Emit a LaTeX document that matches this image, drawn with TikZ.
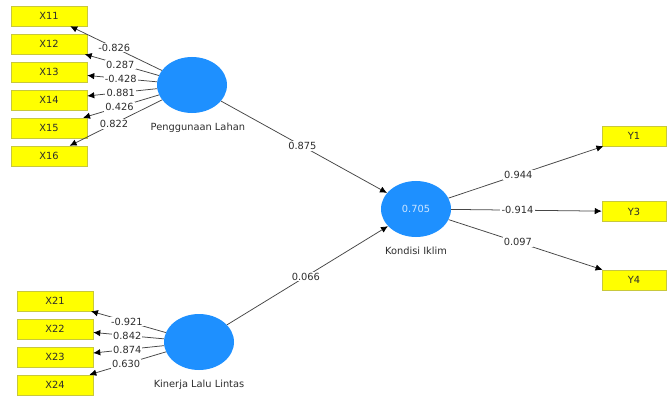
\documentclass[tikz,border=0pt]{standalone}
\usepackage{fontspec}
\setmainfont{DejaVu Sans}
\usepackage{tikz}
\usetikzlibrary{shapes.geometric, arrows.meta, positioning}

\definecolor{lvblue}{RGB}{30,144,255}
\definecolor{mvyellow}{RGB}{255,255,0}
\definecolor{mvedge}{RGB}{200,200,60}
\definecolor{linegray}{RGB}{70,70,70}
\definecolor{txtgray}{RGB}{45,45,45}
\definecolor{r2white}{RGB}{205,230,255}

\begin{document}
\begin{tikzpicture}[x=0.03cm, y=-0.03cm,
  font=\fontsize{8.4}{9}\selectfont, text=txtgray,
  mv/.style={draw=mvedge, fill=mvyellow, minimum width=2.28cm, minimum height=0.6cm, inner sep=0pt},
  mvy/.style={mv, minimum width=1.92cm},
  lv/.style={ellipse, fill=lvblue, minimum width=2.1cm, minimum height=1.68cm, inner sep=0pt},
  link/.style={draw=linegray, line width=0.65pt, -{Latex[length=6pt, width=5.5pt, color=black]}},
  coef/.style={fill=white, inner sep=1pt, pos=.52}]
\useasboundingbox (0,0) rectangle (668,396);

% Latent variables
\node[lv] (pl) at (192,85) {};
\node[lv] (kl) at (199,342) {};
\node[lv, text=r2white] (ki) at (416,209) {0.705};
\node[inner sep=1pt, below=7pt of pl.south, xshift=5pt] (plt) {Penggunaan Lahan};
\node[inner sep=1pt, below=7pt of kl.south] (klt) {Kinerja Lalu Lintas};
\node[inner sep=1pt, below=7pt of ki.south] (kit) {Kondisi Iklim};

% Indicators
\node[mv] (x11) at (49,16) {X11};
\node[mv] (x12) at (49,44) {X12};
\node[mv] (x13) at (49,72) {X13};
\node[mv] (x14) at (49,100) {X14};
\node[mv] (x15) at (49,128) {X15};
\node[mv] (x16) at (49,156) {X16};
\node[mv] (x21) at (55,301) {X21};
\node[mv] (x22) at (55,329) {X22};
\node[mv] (x23) at (55,357) {X23};
\node[mv] (x24) at (55,385) {X24};
\node[mvy] (y1) at (634,136) {Y1};
\node[mvy] (y3) at (634,211.5) {Y3};
\node[mvy] (y4) at (634,280) {Y4};

% Outer loadings
\draw[link] (pl) -- node[coef] (l11) {-0.826} (x11);
\draw[link] (pl) -- node[coef] (l12) {0.287} (x12);
\draw[link] (pl) -- node[coef] (l13) {-0.428} (x13);
\draw[link] (pl) -- node[coef] (l14) {0.881} (x14);
\draw[link] (pl) -- node[coef] (l15) {0.426} (x15);
\draw[link] (pl) -- node[coef] (l16) {0.822} (x16);
\draw[link] (kl) -- node[coef] (l21) {-0.921} (x21);
\draw[link] (kl) -- node[coef] (l22) {0.842} (x22);
\draw[link] (kl) -- node[coef] (l23) {0.874} (x23);
\draw[link] (kl) -- node[coef] (l24) {0.630} (x24);
\draw[link] (ki) -- node[coef, pos=.45] (ly1) {0.944} (y1);
\draw[link] (ki) -- node[coef, pos=.44] (ly3) {-0.914} (y3);
\draw[link] (ki) -- node[coef, pos=.45] (ly4) {0.097} (y4);

% Path coefficients
\draw[link] (pl) -- node[coef, pos=.49] (bpl) {0.875} (ki);
\draw[link] (kl) -- node[coef, pos=.49] (bkl) {0.066} (ki);
\end{tikzpicture}
\end{document}
